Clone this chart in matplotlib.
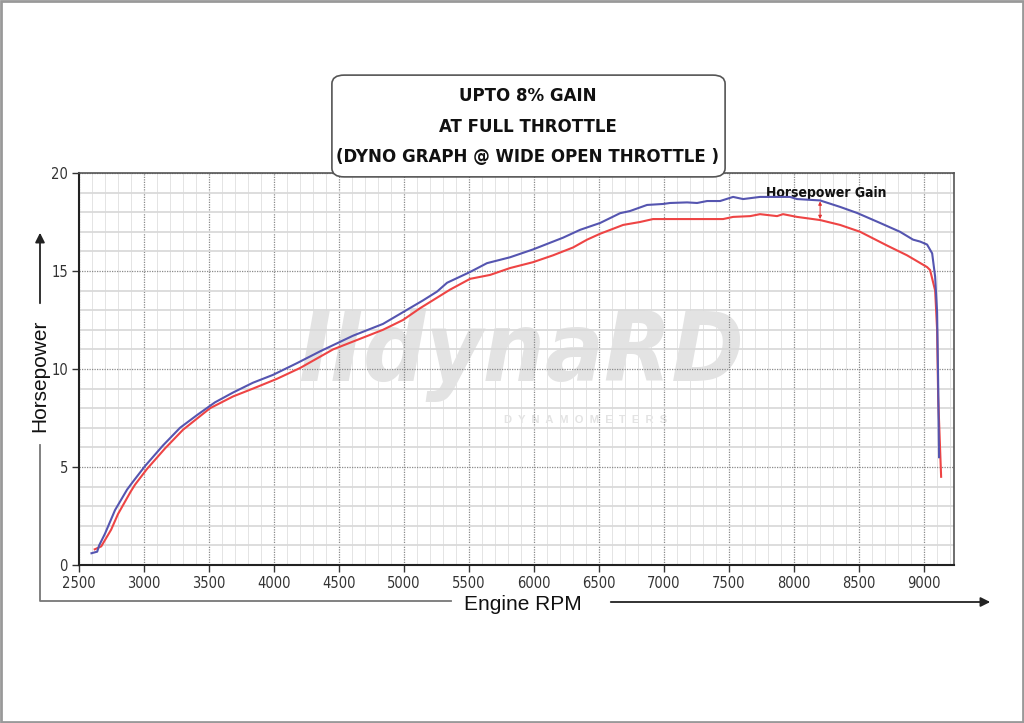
import matplotlib.pyplot as plt
import matplotlib.patches as patches
from matplotlib.lines import Line2D
from matplotlib.ticker import MultipleLocator

# Dyno readings (rpm, horsepower)
blue_rpm = [2596, 2640, 2655, 2700, 2777, 2870, 2915, 3008, 3146, 3277, 3408, 3546,
            3685, 3838, 3992, 4177, 4354, 4608, 4838, 4992, 5146, 5254, 5331, 5508,
            5638, 5815, 5992, 6223, 6354, 6508, 6662, 6738, 6869, 6992, 7046, 7177,
            7254, 7331, 7431, 7531, 7608, 7738, 7969, 8023, 8200, 8354, 8485, 8662,
            8815, 8915, 8970, 9023, 9062, 9085, 9100, 9108, 9115]
blue_hp = [0.6, 0.68, 1.0, 1.6, 2.8, 3.85, 4.25, 5.05, 6.1, 7.0, 7.65, 8.3,
           8.8, 9.3, 9.7, 10.3, 10.9, 11.7, 12.3, 12.9, 13.5, 13.95, 14.4, 14.95,
           15.4, 15.7, 16.1, 16.7, 17.1, 17.45, 17.95, 18.06, 18.37, 18.42, 18.47, 18.5,
           18.47, 18.57, 18.57, 18.78, 18.67, 18.78, 18.78, 18.67, 18.6, 18.27, 17.96, 17.45,
           17.0, 16.6, 16.5, 16.35, 15.9, 14.7, 12.9, 9.4, 5.5]

red_rpm = [2621, 2671, 2747, 2800, 2898, 2931, 3023, 3162, 3300, 3508, 3685, 3838,
           4023, 4200, 4454, 4838, 4992, 5123, 5354, 5508, 5662, 5815, 5992, 6146,
           6300, 6408, 6508, 6685, 6815, 6915, 7454, 7531, 7662, 7738, 7869, 7915,
           8023, 8200, 8354, 8508, 8715, 8869, 9023, 9046, 9085, 9100, 9108, 9131]
red_hp = [0.8, 0.95, 1.8, 2.6, 3.75, 4.1, 4.9, 5.95, 6.9, 8.0, 8.6, 9.0,
          9.5, 10.05, 11.0, 12.0, 12.5, 13.1, 14.05, 14.6, 14.8, 15.15, 15.45, 15.8,
          16.2, 16.6, 16.9, 17.35, 17.5, 17.65, 17.65, 17.76, 17.8, 17.9, 17.8, 17.9,
          17.76, 17.6, 17.35, 17.0, 16.3, 15.8, 15.2, 15.05, 14.0, 12.0, 8.6, 4.5]

title_lines = ['UPTO 8% GAIN', 'AT FULL THROTTLE', '(DYNO GRAPH @ WIDE OPEN THROTTLE )']
gain_rpm = 8200
gain_hp = (18.55, 17.65)

narrow = ['DejaVu Sans']
plain = ['Liberation Sans', 'DejaVu Sans']

W, H = 1024, 723
fig = plt.figure(figsize=(W / 100, H / 100), dpi=100)

def fx(px):
    return px / W

def fy(py):
    return 1 - py / H

ax = fig.add_axes([fx(79), fy(565), fx(954) - fx(79), fy(173) - fy(565)])
ax.set_xlim(2500, 9230)
ax.set_ylim(0, 20)

# grid: light minor lines, dotted major lines
ax.xaxis.set_major_locator(MultipleLocator(500))
ax.xaxis.set_minor_locator(MultipleLocator(100))
ax.yaxis.set_major_locator(MultipleLocator(5))
ax.yaxis.set_minor_locator(MultipleLocator(1))
ax.set_axisbelow(True)
ax.grid(which='minor', axis='x', color='#e4e4e4', lw=0.7)
ax.grid(which='minor', axis='y', color='#dadada', lw=1.3)
ax.grid(which='major', axis='both', color='#8a8a8a', lw=0.9, ls=(0, (1, 1)))

ax.tick_params(which='minor', length=0)
ax.tick_params(which='major', length=5, width=1, color='#333333', labelcolor='#333333', pad=3)
for lab in ax.get_xticklabels() + ax.get_yticklabels():
    lab.set_family(narrow)
    lab.set_stretch('condensed')
    lab.set_fontsize(10.5)

for side in ['top', 'right']:
    ax.spines[side].set_color('#555555')
    ax.spines[side].set_linewidth(1.2)
for side in ['left', 'bottom']:
    ax.spines[side].set_color('#222222')
    ax.spines[side].set_linewidth(1.5)

# watermark
ax.text(5900, 8.3, 'IIdynaRD', fontsize=70, fontweight='bold', style='italic',
        color='#e3e3e3', ha='center', va='bottom', family=narrow, stretch='condensed',
        zorder=0.1)
ax.text(6400, 7.4, 'D  Y  N  A  M  O  M  E  T  E  R  S', fontsize=8, fontweight='bold',
        color='#e3e3e3', ha='center', va='center', family=plain, zorder=0.1)

ax.plot(red_rpm, red_hp, color='#ee4444', lw=1.5, zorder=3)
ax.plot(blue_rpm, blue_hp, color='#5555b0', lw=1.5, zorder=4)

# gain marker
ax.annotate('', xy=(gain_rpm, gain_hp[0]), xytext=(gain_rpm, gain_hp[1]),
            arrowprops=dict(arrowstyle='<|-|>', color='#e03030', lw=0.7,
                            mutation_scale=5, shrinkA=0, shrinkB=0), zorder=5)
ax.text(8250, 19.0, 'Horsepower Gain', fontsize=10, fontweight='bold',
        family=narrow, stretch='condensed', ha='center', va='center', color='#111111')

# title box
box = patches.FancyBboxPatch((fx(336), fy(174)), fx(721) - fx(336), fy(78) - fy(174),
                             boxstyle='round,pad=0.004,rounding_size=0.012',
                             transform=fig.transFigure, facecolor='white',
                             edgecolor='#555555', lw=1.2, zorder=10)
fig.patches.append(box)
for i, line in enumerate(title_lines):
    fig.text(fx(528), fy(96 + 30.5 * i), line, fontsize=13.3, fontweight='bold',
             family=narrow, stretch='condensed', ha='center', va='center',
             color='#111111', zorder=11)

# axis captions with framing lines and arrows
fig.text(fx(40), fy(376), 'Horsepower', rotation=90, fontsize=15, family=plain,
         ha='center', va='center', color='#111111')
fig.text(fx(523), fy(604), 'Engine RPM', fontsize=15, family=plain,
         ha='center', va='center', color='#111111')
fig.add_artist(Line2D([fx(40), fx(40), fx(451)], [fy(445), fy(601), fy(601)],
                      color='#777777', lw=1.3))
fig.add_artist(patches.FancyArrowPatch((fx(40), fy(306)), (fx(40), fy(230)),
                                       transform=fig.transFigure, arrowstyle='-|>',
                                       mutation_scale=14, color='#222222', lw=1.3))
fig.add_artist(patches.FancyArrowPatch((fx(608), fy(602)), (fx(993), fy(602)),
                                       transform=fig.transFigure, arrowstyle='-|>',
                                       mutation_scale=14, color='#222222', lw=1.3))

# page border
fig.add_artist(patches.Rectangle((0.001, 0.002), 0.998, 0.996, transform=fig.transFigure,
                                 fill=False, edgecolor='#999999', lw=2))

fig.savefig('out.png', dpi=100)
